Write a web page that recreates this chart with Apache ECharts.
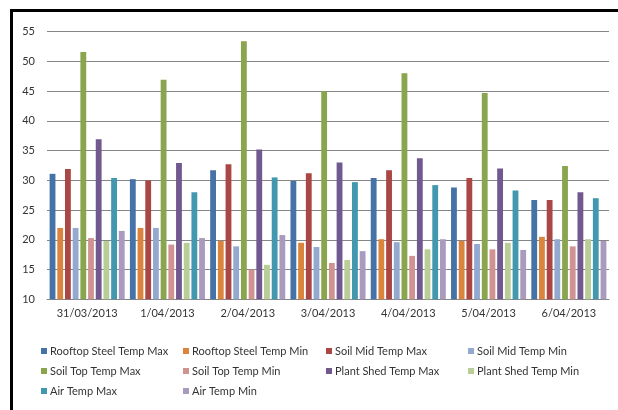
<!DOCTYPE html>
<html>
<head>
<meta charset="utf-8">
<script src="https://cdn.jsdelivr.net/npm/echarts@6/dist/echarts.min.js"></script>
<style>
html,body{margin:0;padding:0;background:#fff;}
#chart{width:618px;height:410px;}
</style>
</head>
<body>
<div id="chart"></div>
<script>
var categories = ['31/03/2013','1/04/2013','2/04/2013','3/04/2013','4/04/2013','5/04/2013','6/04/2013'];
var yTicks = {min: 10, max: 55, interval: 5};

var rooftopSteelMax = [31.1, 30.2, 31.7, 29.9, 30.4, 28.8, 26.7];
var rooftopSteelMin = [22.0, 22.0, 19.8, 19.5, 20.1, 19.8, 20.5];
var soilMidMax      = [31.9, 30.0, 32.7, 31.2, 31.7, 30.4, 26.7];
var soilMidMin      = [22.0, 22.0, 18.9, 18.8, 19.6, 19.3, 20.1];
var soilTopMax      = [51.6, 46.9, 53.4, 45.0, 48.0, 44.7, 32.4];
var soilTopMin      = [20.3, 19.2, 15.0, 16.1, 17.3, 18.4, 18.9];
var plantShedMax    = [36.9, 32.9, 35.2, 33.0, 33.7, 32.0, 28.0];
var plantShedMin    = [19.8, 19.5, 15.8, 16.6, 18.4, 19.5, 20.1];
var airMax          = [30.4, 28.0, 30.5, 29.7, 29.2, 28.3, 27.0];
var airMin          = [21.5, 20.3, 20.8, 18.1, 20.1, 18.3, 19.8];

var seriesNames = ['Rooftop Steel Temp Max','Rooftop Steel Temp Min','Soil Mid Temp Max','Soil Mid Temp Min',
  'Soil Top Temp Max','Soil Top Temp Min','Plant Shed Temp Max','Plant Shed Temp Min','Air Temp Max','Air Temp Min'];
var seriesData = [rooftopSteelMax, rooftopSteelMin, soilMidMax, soilMidMin, soilTopMax, soilTopMin,
  plantShedMax, plantShedMin, airMax, airMin];
var colors = ['#4572A7','#DB843D','#AA4643','#93A9CF','#89A54E','#D19392','#71588F','#B9CD96','#4198AF','#A99BBD'];

var FONT = 'Lato';
var chart = echarts.init(document.getElementById('chart'), null, {renderer: 'canvas'});

function legendCol(x, names) {
  return {
    orient: 'vertical', left: x, top: 344,
    itemWidth: 6, itemHeight: 6, itemGap: 6,
    icon: 'rect', selectedMode: false,
    textStyle: {fontFamily: FONT, fontSize: 11, color: '#333', lineHeight: 14, padding: [0,0,0,-2]},
    padding: 0,
    data: names
  };
}

var option = {
  backgroundColor: '#fff',
  color: colors,
  animation: false,
  grid: {left: 47, right: 9, top: 31.7, bottom: 110.7},
  graphic: [{
    type: 'rect', silent: true, z: 100,
    shape: {x: 11.5, y: 10.5, width: 620, height: 420},
    style: {fill: null, stroke: '#000', lineWidth: 3}
  }],
  legend: [
    legendCol(41, [seriesNames[0], seriesNames[4], seriesNames[8]]),
    legendCol(183, [seriesNames[1], seriesNames[5], seriesNames[9]]),
    legendCol(326, [seriesNames[2], seriesNames[6]]),
    legendCol(468, [seriesNames[3], seriesNames[7]])
  ],
  xAxis: {
    type: 'category', data: categories,
    axisLine: {lineStyle: {color: '#868686', width: 1}},
    axisTick: {show: false},
    axisLabel: {fontFamily: FONT, fontSize: 11, color: '#333', margin: 9}
  },
  yAxis: {
    type: 'value', min: yTicks.min, max: yTicks.max, interval: yTicks.interval,
    axisLine: {show: false}, axisTick: {show: false},
    axisLabel: {fontFamily: FONT, fontSize: 11, color: '#333', margin: 12},
    splitLine: {lineStyle: {color: '#868686', width: 1}}
  },
  series: seriesNames.map(function (n, i) {
    return {
      name: n, type: 'bar', data: seriesData[i],
      barGap: '32%', barCategoryGap: '6.5%',
      itemStyle: {color: colors[i]}
    };
  })
};
chart.setOption(option);
</script>
</body>
</html>
